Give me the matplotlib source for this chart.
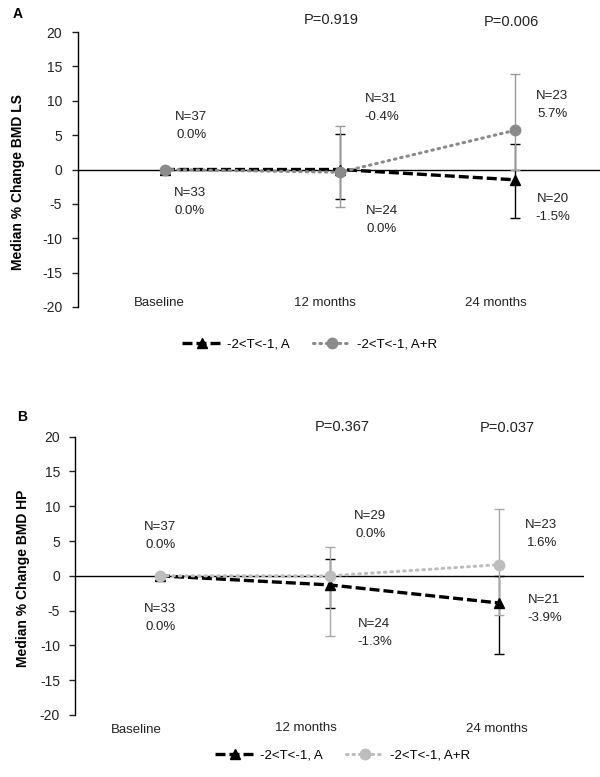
import matplotlib
matplotlib.use("Agg")
import matplotlib.pyplot as plt
from matplotlib.lines import Line2D

plt.rcParams['font.family'] = ['Liberation Sans', 'DejaVu Sans']

W, H = 600, 777

# ---------------- data ----------------
categories = ["Baseline", "12 months", "24 months"]
series_names = ["-2<T<-1, A", "-2<T<-1, A+R"]

# Panel A (LS)
a_A = [0.0, 0.0, -1.5]
a_A_lo = [0.0, -4.25, -7.0]
a_A_hi = [0.0, 5.1, 3.7]
a_AR = [0.0, -0.4, 5.7]
a_AR_lo = [0.0, -5.5, 0.0]
a_AR_hi = [0.0, 6.3, 13.9]
a_N_A = ["N=33", "N=24", "N=20"]
a_N_AR = ["N=37", "N=31", "N=23"]
a_pct_A = ["0.0%", "0.0%", "-1.5%"]
a_pct_AR = ["0.0%", "-0.4%", "5.7%"]
a_p = ["P=0.919", "P=0.006"]

# Panel B (HP)
b_A = [0.0, -1.3, -3.9]
b_A_lo = [0.0, -4.6, -11.2]
b_A_hi = [0.0, 2.4, 0.0]
b_AR = [0.0, 0.0, 1.6]
b_AR_lo = [0.0, -8.6, -5.6]
b_AR_hi = [0.0, 4.2, 9.6]
b_N_A = ["N=33", "N=24", "N=21"]
b_N_AR = ["N=37", "N=29", "N=23"]
b_pct_A = ["0.0%", "-1.3%", "-3.9%"]
b_pct_AR = ["0.0%", "0.0%", "1.6%"]
b_p = ["P=0.367", "P=0.037"]

yticks = [-20, -15, -10, -5, 0, 5, 10, 15, 20]

fig = plt.figure(figsize=(W / 100, H / 100), dpi=100)


def fx(px):
    return px / W


def fy(py):
    return 1 - py / H


def txt(x, y, s, **kw):
    kw.setdefault('ha', 'center')
    kw.setdefault('va', 'center')
    kw.setdefault('fontsize', 9.5)
    kw.setdefault('color', '#222222')
    fig.text(fx(x), fy(y), s, **kw)


MS = 7.5


def make_panel(rect, vals_A, lo_A, hi_A, vals_AR, lo_AR, hi_AR, grey, ebgrey):
    left, top, right, bottom = rect
    ax = fig.add_axes([fx(left), fy(bottom), fx(right - left), (bottom - top) / H])
    ax.set_xlim(-0.5, 2.5)
    ax.set_ylim(-20, 20)
    for s in ['top', 'right', 'bottom']:
        ax.spines[s].set_visible(False)
    ax.spines['left'].set_linewidth(1.0)
    ax.set_yticks(yticks)
    ax.set_yticklabels([str(v) for v in yticks])
    ax.tick_params(axis='y', direction='out', length=4, width=1, pad=7, labelsize=10, colors='#222222')
    ax.set_xticks([])
    ax.axhline(0, color='black', lw=1.0, zorder=1)
    x = list(range(len(categories)))
    ax.errorbar(x[1:], vals_A[1:],
                yerr=[[v - l for v, l in zip(vals_A[1:], lo_A[1:])],
                      [h - v for v, h in zip(vals_A[1:], hi_A[1:])]],
                fmt='none', ecolor='black', elinewidth=1.0, capsize=3.5, capthick=1.0, zorder=2)
    ax.errorbar(x[1:], vals_AR[1:],
                yerr=[[v - l for v, l in zip(vals_AR[1:], lo_AR[1:])],
                      [h - v for v, h in zip(vals_AR[1:], hi_AR[1:])]],
                fmt='none', ecolor=ebgrey, elinewidth=1.0, capsize=3.5, capthick=1.0, zorder=3)
    ax.plot(x, vals_A, color='black', lw=2.4, linestyle=(0, (3, 1.2)),
            marker='^', markersize=MS, zorder=4)
    ax.plot(x, vals_AR, color=grey, lw=2.2, linestyle=(0, (0.5, 1.6)), dash_capstyle='round',
            marker='o', markersize=MS, zorder=5)
    return ax


# ---------------- Panel A ----------------
make_panel((77.5, 32, 602.5, 307), a_A, a_A_lo, a_A_hi, a_AR, a_AR_lo, a_AR_hi,
           grey='#8a8a8a', ebgrey='#9a9a9a')
txt(18, 14, "A", fontweight='bold', fontsize=10, color='black')
txt(18, 182, "Median % Change BMD LS", rotation=90, fontweight='bold', fontsize=10, color='black')
for (cx, cy), s in zip([(159, 303), (325, 303), (496, 303)], categories):
    txt(cx, cy, s)
for (cx, cy), s in zip([(331, 20), (511, 22)], a_p):
    txt(cx, cy, s, fontsize=10.5)
for (cx, cy), n, p in zip([(191, 117), (381, 99), (552, 96)], a_N_AR, a_pct_AR):
    txt(cx, cy, n)
    txt(cx + 1, cy + 18, p)
for (cx, cy), n, p in zip([(190, 193), (382, 211), (553, 199)], a_N_A, a_pct_A):
    txt(cx, cy, n)
    txt(cx, cy + 18, p)

hA = [Line2D([], [], color='black', lw=2.4, linestyle=(0, (3, 1.2)), marker='^', markersize=MS),
      Line2D([], [], color='#8a8a8a', lw=2.2, linestyle=(0, (0.5, 1.6)), dash_capstyle='round',
             marker='o', markersize=MS)]
fig.legend(hA, series_names, loc='center', bbox_to_anchor=(fx(310), fy(344)), ncol=2,
           frameon=False, fontsize=9.5, handlelength=2.9, handletextpad=0.5, columnspacing=1.7)

# ---------------- Panel B ----------------
make_panel((75.25, 436.7, 583.75, 715), b_A, b_A_lo, b_A_hi, b_AR, b_AR_lo, b_AR_hi,
           grey='#bdbdbd', ebgrey='#a8a8a8')
txt(22, 417, "B", fontweight='bold', fontsize=10, color='black')
txt(23, 578, "Median % Change BMD HP", rotation=90, fontweight='bold', fontsize=10, color='black')
for (cx, cy), s in zip([(136, 730), (306, 728), (497, 729)], categories):
    txt(cx, cy, s)
for (cx, cy), s in zip([(342, 427), (507, 428)], b_p):
    txt(cx, cy, s, fontsize=10.5)
for (cx, cy), n, p in zip([(160, 527), (370, 516), (541, 525)], b_N_AR, b_pct_AR):
    txt(cx, cy, n)
    txt(cx + 1, cy + 18, p)
for (cx, cy), n, p in zip([(160, 609), (374, 624), (544, 600)], b_N_A, b_pct_A):
    txt(cx, cy, n)
    txt(cx + 1, cy + 18, p)

hB = [Line2D([], [], color='black', lw=2.4, linestyle=(0, (3, 1.2)), marker='^', markersize=MS),
      Line2D([], [], color='#bdbdbd', lw=2.2, linestyle=(0, (0.5, 1.6)), dash_capstyle='round',
             marker='o', markersize=MS)]
fig.legend(hB, series_names, loc='center', bbox_to_anchor=(fx(343), fy(755)), ncol=2,
           frameon=False, fontsize=9.5, handlelength=2.9, handletextpad=0.5, columnspacing=1.7)

fig.savefig("out.png", dpi=100, facecolor='white')
